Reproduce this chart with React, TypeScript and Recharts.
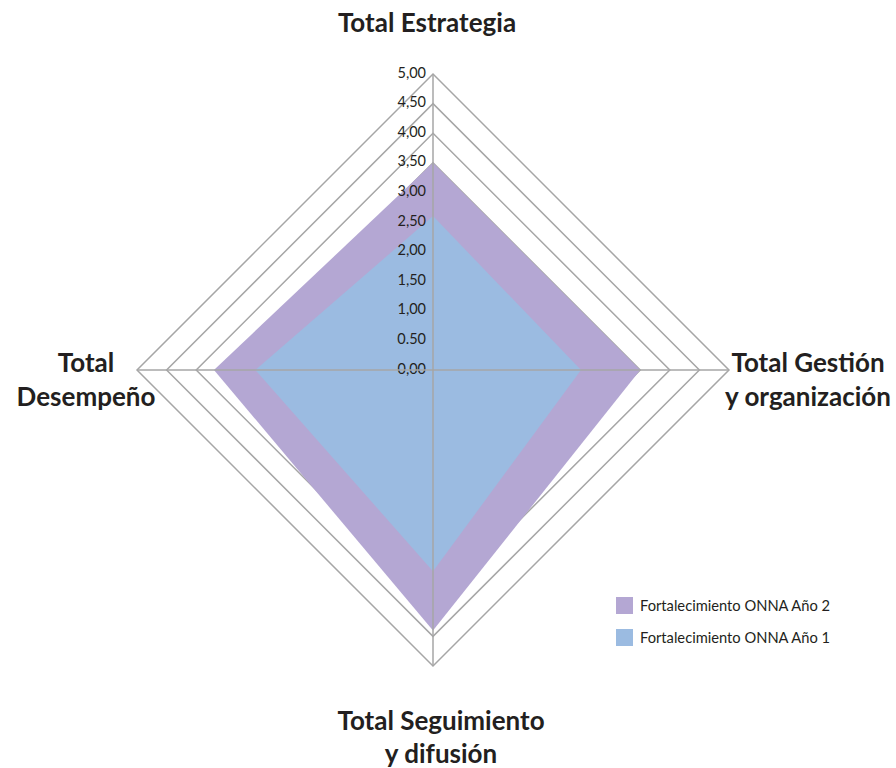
import React from 'react';
import { RadarChart, Radar, PolarGrid, PolarAngleAxis, PolarRadiusAxis, Legend } from 'recharts';

const categories = ['Total Estrategia', 'Total Gestión y organización', 'Total Seguimiento y difusión', 'Total Desempeño'];
const categoryLines = [['Total Estrategia'], ['Total Gestión', 'y organización'], ['Total Seguimiento', 'y difusión'], ['Total', 'Desempeño']];
const year2Values = [3.5, 3.5, 4.4, 3.7];
const year1Values = [2.6, 2.5, 3.4, 3.0];
const radiusTicks = [0, 0.5, 1, 1.5, 2, 2.5, 3, 3.5, 4, 4.5, 5];
const radiusTickLabels = ['0,00', '0.50', '1,00', '1,50', '2,00', '2,50', '3,00', '3,50', '4,00', '4,50', '5,00'];
const seriesNames = ['Fortalecimiento ONNA Año 2', 'Fortalecimiento ONNA Año 1'];
const seriesColors = ['#B4A7D3', '#9BBBE1'];

const data = categories.map((c, i) => ({ category: c, year2: year2Values[i], year1: year1Values[i] }));

const FONT = 'Lato, "Open Sans", sans-serif';

const labelOffsets = [
  { dx: -6, dys: [-44] },
  { dx: 71, dys: [-8, 26] },
  { dx: 8, dys: [46, 79] },
  { dx: -43, dys: [-8, 26] },
];

const AngleTick = (props: any) => {
  const { x, y, payload } = props;
  const idx = categories.indexOf(payload.value);
  const lines = categoryLines[idx] || [payload.value];
  const off = labelOffsets[idx] || { dx: 0, dys: [0] };
  return (
    <g>
      {lines.map((l, i) => (
        <text
          key={i}
          x={x + off.dx}
          y={y + off.dys[i]}
          textAnchor="middle"
          dominantBaseline="central"
          fontFamily={FONT}
          fontWeight={700}
          fontSize={26}
          fill="#231F20"
        >
          {l}
        </text>
      ))}
    </g>
  );
};

const RadiusTick = (props: any) => {
  const { x, y, payload } = props;
  const i = radiusTicks.indexOf(payload.value);
  return (
    <text x={x - 7} y={y - 2} textAnchor="end" dominantBaseline="central" fontFamily={FONT} fontSize={14.5} fill="#231F20">
      {radiusTickLabels[i]}
    </text>
  );
};

const LegendContent = () => (
  <div style={{ fontFamily: FONT, fontSize: 14.7, color: '#231F20' }}>
    {seriesNames.map((n, i) => (
      <div key={n} style={{ display: 'flex', alignItems: 'center', height: 32 }}>
        <div style={{ width: 17, height: 17, background: seriesColors[i], marginRight: 7 }} />
        <span>{n}</span>
      </div>
    ))}
  </div>
);

export default function App() {
  return (
    <div style={{ position: 'absolute', left: 0, top: 0, width: 896, height: 768, background: '#fff' }}>
      <RadarChart width={896} height={768} data={data} cx={433} cy={370} outerRadius={296} margin={{ top: 0, right: 0, bottom: 0, left: 0 }}>
        <PolarGrid gridType="polygon" stroke="#A6A6A6" strokeWidth={1.5} radialLines={false} />
        <PolarAngleAxis dataKey="category" tick={<AngleTick />} tickLine={false} axisLine={false} />
        <PolarRadiusAxis angle={90} domain={[0, 5]} ticks={radiusTicks} tickCount={11} axisLine={false} tickLine={false} tick={<RadiusTick />} />
        <Radar name={seriesNames[0]} dataKey="year2" fill={seriesColors[0]} fillOpacity={1} stroke="none" isAnimationActive={false} />
        <Radar name={seriesNames[1]} dataKey="year1" fill={seriesColors[1]} fillOpacity={1} stroke="none" isAnimationActive={false} />
        <PolarGrid gridType="polygon" stroke="#A6A6A6" strokeWidth={1.5} polarRadius={[0.001]} radialLines={true} zIndex={1000} />
        <Legend content={<LegendContent />} wrapperStyle={{ left: 616, top: 589, width: 260 }} />
      </RadarChart>
    </div>
  );
}
